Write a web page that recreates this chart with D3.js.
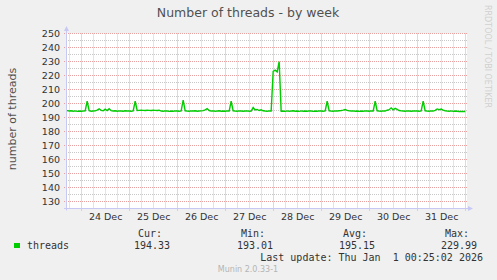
<!DOCTYPE html>
<html>
  <head>
    <meta charset="utf-8" />
    <title>Number of threads - by week</title>
    <script src="https://d3js.org/d3.v7.min.js"></script>
    <style>
      body { margin: 0; background: #f0f0f0; }
      svg { display: block; }
      text { font-family: "DejaVu Sans", sans-serif; fill: #333; }
      .mono { font-family: "DejaVu Sans Mono", monospace; white-space: pre; }
    </style>
  </head>
  <body>
    <svg width="497" height="280" id="chart"></svg>
    <script>
      // hourly samples, starting Dec 23 16:00 UTC
      const dec23 = [195.2, 194.9, 194.6, 194.8, 194.5, 194.7, 194.4, 194.6];
      const dec24 = [194.5, 194.6, 194.8, 201.6, 194.9, 194.5, 194.6, 194.7, 195.3, 196.2, 195.1, 194.8,
                     196.0, 195.0, 196.3, 194.9, 194.6, 194.8, 194.5, 194.7, 194.6, 194.5, 194.8, 194.6];
      const dec25 = [194.6, 194.5, 194.7, 201.6, 195.0, 195.1, 195.2, 195.1, 195.0, 195.2, 195.1, 195.0,
                     195.2, 195.1, 195.0, 195.2, 194.6, 194.5, 194.7, 194.6, 194.4, 194.6, 194.5, 194.7];
      const dec26 = [194.6, 194.5, 194.7, 202.4, 194.8, 194.6, 194.5, 194.7, 194.6, 194.8, 194.5, 194.6,
                     194.7, 194.9, 195.4, 196.3, 195.0, 194.6, 194.7, 194.5, 194.6, 194.8, 194.5, 194.6];
      const dec27 = [194.5, 194.7, 194.6, 201.6, 194.8, 194.6, 194.5, 194.7, 194.6, 194.5, 194.6, 194.7,
                     194.5, 194.6, 197.1, 195.4, 195.8, 195.0, 195.5, 194.8, 194.6, 194.5, 194.7, 194.6];
      const dec28 = [223.0, 223.8, 222.6, 229.99, 194.5, 194.6, 194.4, 194.7, 194.5, 194.6, 194.8, 194.5,
                     194.6, 194.4, 194.7, 194.5, 194.6, 194.5, 194.7, 194.6, 194.4, 194.6, 194.5, 194.7];
      const dec29 = [194.6, 194.5, 194.7, 201.6, 194.8, 194.6, 194.5, 194.7, 194.6, 194.8, 195.0, 195.3,
                     195.7, 195.1, 194.8, 194.6, 194.7, 194.5, 194.6, 194.4, 194.6, 194.5, 194.7, 194.6];
      const dec30 = [194.5, 194.7, 194.6, 201.6, 194.8, 194.6, 194.5, 194.7, 194.6, 195.2, 195.6, 196.9,
                     195.5, 196.5, 195.8, 195.0, 194.7, 194.6, 194.5, 194.7, 194.6, 194.5, 194.6, 194.7];
      const dec31 = [194.6, 194.5, 194.7, 201.6, 194.8, 194.6, 194.5, 194.7, 194.6, 195.1, 196.1, 195.6,
                     196.0, 195.2, 194.8, 194.6, 194.5, 194.7, 194.4, 194.6, 194.5, 194.3, 194.4, 194.3];
      const jan01 = [194.33];

      const dayLabels = ["24 Dec", "25 Dec", "26 Dec", "27 Dec", "28 Dec", "29 Dec", "30 Dec", "31 Dec"];
      const yTicks = [130, 140, 150, 160, 170, 180, 190, 200, 210, 220, 230, 240, 250];
      const statNames = ["Cur:", "Min:", "Avg:", "Max:"];
      const statValues = ["194.33", "193.01", "195.15", "229.99"];

      const values = [].concat(dec23, dec24, dec25, dec26, dec27, dec28, dec29, dec30, dec31, jan01);
      const first = Date.UTC(2025, 11, 23, 16);
      const data = values.map((v, i) => ({ t: new Date(first + i * 3600e3), v: v }));

      const start = new Date(Date.UTC(2025, 11, 23, 16, 25, 2));
      const end = new Date(Date.UTC(2026, 0, 1, 0, 25, 2));

      const L = 66, R = 466, T = 33.5, B = 208.5;
      const x = d3.scaleUtc().domain([start, end]).range([L, R]);
      const y = d3.scaleLinear().domain([125, 250]).range([B, T]);

      const svg = d3.select("#chart");
      svg.append("rect").attr("width", 497).attr("height", 280).attr("fill", "#f0f0f0");
      svg.append("rect").attr("x", L).attr("y", 33).attr("width", R - L + 1).attr("height", B - 33)
        .attr("fill", "#ffffff");

      // minor grid
      const minorX = d3.utcHour.every(6).range(start, end).filter(d => d.getUTCHours() !== 0);
      svg.append("g").selectAll("line").data(minorX).join("line")
        .attr("x1", d => Math.floor(x(d)) + 0.5).attr("x2", d => Math.floor(x(d)) + 0.5)
        .attr("y1", T).attr("y2", B)
        .attr("stroke", "#c8c8c8").attr("stroke-dasharray", "1,1");
      const minorY = d3.range(135, 250, 10);
      svg.append("g").selectAll("line").data(minorY).join("line")
        .attr("x1", L).attr("x2", R + 2)
        .attr("y1", d => y(d)).attr("y2", d => y(d))
        .attr("stroke", "#c8c8c8").attr("stroke-dasharray", "1,1");

      // major grid
      const majorX = d3.utcDay.range(start, end);
      svg.append("g").selectAll("line").data(majorX).join("line")
        .attr("x1", d => Math.floor(x(d)) + 0.5).attr("x2", d => Math.floor(x(d)) + 0.5)
        .attr("y1", T).attr("y2", B + 2)
        .attr("stroke", "#e8a0a0").attr("stroke-dasharray", "1,1");
      svg.append("g").selectAll("line").data(yTicks).join("line")
        .attr("x1", L - 2).attr("x2", R + 2)
        .attr("y1", d => y(d)).attr("y2", d => y(d))
        .attr("stroke", "#e8a0a0").attr("stroke-dasharray", "1,1");

      // axes lines with arrows
      const axisColor = "#c8c8f4";
      svg.append("line").attr("x1", L + 0.5).attr("x2", L + 0.5).attr("y1", B + 2).attr("y2", 29)
        .attr("stroke", axisColor);
      svg.append("path").attr("d", `M${L - 2},${31} L${L + 0.5},${26} L${L + 3},${31} Z`).attr("fill", axisColor);
      svg.append("line").attr("x1", L - 2).attr("x2", 470).attr("y1", B).attr("y2", B)
        .attr("stroke", axisColor);
      svg.append("path").attr("d", `M468,${B - 2.5} L473,${B} L468,${B + 2.5} Z`).attr("fill", axisColor);

      // y tick labels
      const yAxis = svg.append("g").attr("transform", `translate(${L},0)`)
        .call(d3.axisLeft(y).tickValues(yTicks).tickSize(0).tickPadding(6));
      yAxis.select(".domain").remove();
      yAxis.selectAll("text").style("font-size", "9.5px").style("font-family", "DejaVu Sans").attr("fill", "#3a3a3a");

      // x tick labels at noon
      const noons = dayLabels.map((d, i) => new Date(Date.UTC(2025, 11, 24 + i, 12)));
      const xAxis = svg.append("g").attr("transform", `translate(0,${B})`)
        .call(d3.axisBottom(x).tickValues(noons).tickSize(0).tickFormat((d, i) => dayLabels[i]));
      xAxis.select(".domain").remove();
      xAxis.selectAll("text").attr("y", 11.5).attr("dy", 0)
        .style("font-size", "9.5px").style("font-family", "DejaVu Sans").attr("fill", "#3a3a3a");

      // series
      const line = d3.line().x(d => x(d.t)).y(d => y(d.v));
      svg.append("clipPath").attr("id", "clip").append("rect")
        .attr("x", L + 1).attr("y", 0).attr("width", R - L).attr("height", 280);
      svg.append("path").datum(data).attr("d", line).attr("clip-path", "url(#clip)")
        .attr("fill", "none").attr("stroke", "#00cc00").attr("stroke-width", 1.4);

      // titles
      svg.append("text").attr("x", 248).attr("y", 17).attr("text-anchor", "middle")
        .style("font-size", "12.5px").style("fill", "#505050").text("Number of threads - by week");
      svg.append("text").attr("transform", "translate(16,119) rotate(-90)").attr("text-anchor", "middle")
        .style("font-size", "11px").style("fill", "#505050").text("number of threads");
      svg.append("text").attr("transform", "translate(485,5) rotate(90)")
        .style("font-size", "8px").style("fill", "#d0d0d0").text("RRDTOOL / TOBI OETIKER");

      // legend
      svg.append("rect").attr("x", 14).attr("y", 243).attr("width", 6).attr("height", 5).attr("fill", "#00cc00");
      svg.append("text").attr("class", "mono").attr("x", 27).attr("y", 249)
        .style("font-size", "10px").text("threads");
      const headRight = [162, 265, 367, 469];
      const valRight = [170, 273, 375, 477];
      svg.append("g").selectAll("text").data(statNames).join("text").attr("class", "mono")
        .attr("x", (d, i) => headRight[i]).attr("y", 237).attr("text-anchor", "end")
        .style("font-size", "10px").text(d => d);
      svg.append("g").selectAll("text").data(statValues).join("text").attr("class", "mono")
        .attr("x", (d, i) => valRight[i]).attr("y", 249).attr("text-anchor", "end")
        .style("font-size", "10px").text(d => d);
      svg.append("text").attr("class", "mono").attr("x", 483).attr("y", 261).attr("text-anchor", "end")
        .style("font-size", "10px").text("Last update: Thu Jan  1 00:25:02 2026");
      svg.append("text").attr("x", 248).attr("y", 272).attr("text-anchor", "middle")
        .style("font-size", "8px").style("fill", "#b4b4b4").text("Munin 2.0.33-1");
    </script>
  </body>
</html>
